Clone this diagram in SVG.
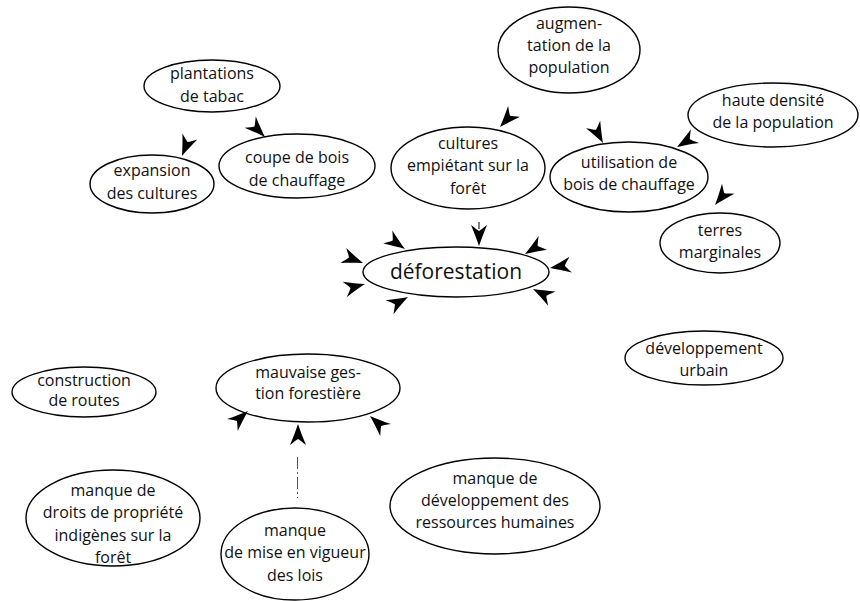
<svg xmlns="http://www.w3.org/2000/svg" width="860" height="601" viewBox="0 0 860 601">
<style>
.n ellipse{fill:#fff;stroke:#000;stroke-width:1.4}
.n text{font-family:"Open Sans","Noto Sans","Liberation Sans",sans-serif;font-size:16px;fill:#111;text-anchor:middle}
.big text{font-size:21px}
.ah{fill:#000}
</style>
<defs>
<path id="ah" d="M0,0 C-6,-2 -14,-5 -21,-8 C-18,-4 -16,-2 -15,0 C-16,2 -18,4 -21,8 C-14,5 -6,2 0,0 Z"/>
</defs>
<rect width="860" height="601" fill="#fff"/>
<g id="plantations" class="n"><ellipse cx="212" cy="86" rx="68" ry="26"/><text x="212" y="79">plantations</text><text x="212" y="102">de tabac</text></g>
<g id="expansion" class="n"><ellipse cx="152" cy="184" rx="62" ry="29"/><text x="152" y="176">expansion</text><text x="152" y="199">des cultures</text></g>
<g id="coupe" class="n"><ellipse cx="297" cy="166" rx="78" ry="32"/><text x="297" y="163">coupe de bois</text><text x="297" y="186">de chauffage</text></g>
<g id="cultures" class="n"><ellipse cx="468" cy="168" rx="77" ry="41"/><text x="468" y="149">cultures</text><text x="468" y="171">empiétant sur la</text><text x="468" y="194">forêt</text></g>
<g id="augmentation" class="n"><ellipse cx="569" cy="50" rx="71" ry="43"/><text x="569" y="29">augmen-</text><text x="569" y="51">tation de la</text><text x="569" y="73">population</text></g>
<g id="haute" class="n"><ellipse cx="773" cy="115" rx="85" ry="32"/><text x="773" y="106">haute densité</text><text x="773" y="128">de la population</text></g>
<g id="utilisation" class="n"><ellipse cx="629" cy="177" rx="79" ry="35"/><text x="629" y="168">utilisation de</text><text x="629" y="190">bois de chauffage</text></g>
<g id="terres" class="n"><ellipse cx="720" cy="243" rx="60" ry="30"/><text x="720" y="236">terres</text><text x="720" y="258">marginales</text></g>
<g id="deforestation" class="n big"><ellipse cx="456" cy="272" rx="93" ry="25"/><text x="456" y="279">déforestation</text></g>
<g id="construction" class="n"><ellipse cx="84" cy="392" rx="72" ry="25"/><text x="84" y="386">construction</text><text x="84" y="406">de routes</text></g>
<g id="mauvaise" class="n"><ellipse cx="308" cy="388" rx="92" ry="34"/><text x="308" y="378">mauvaise ges-</text><text x="308" y="399">tion forestière</text></g>
<g id="droits" class="n"><ellipse cx="113" cy="518" rx="87" ry="48"/><text x="113" y="496">manque de</text><text x="113" y="518">droits de propriété</text><text x="113" y="541">indigènes sur la</text><text x="113" y="563">forêt</text></g>
<g id="lois" class="n"><ellipse cx="295" cy="554" rx="74" ry="46"/><text x="295" y="536">manque</text><text x="295" y="558">de mise en vigueur</text><text x="295" y="581">des lois</text></g>
<g id="ressources" class="n"><ellipse cx="495" cy="506" rx="105" ry="48"/><text x="495" y="484">manque de</text><text x="495" y="506">développement des</text><text x="495" y="528">ressources humaines</text></g>
<g id="urbain" class="n"><ellipse cx="704" cy="358" rx="79" ry="27"/><text x="704" y="354">développement</text><text x="704" y="376">urbain</text></g>
<g id="connectors" class="ah">
<use href="#ah" transform="translate(182,156) rotate(112)"/>
<use href="#ah" transform="translate(265,137) rotate(45)"/>
<use href="#ah" transform="translate(500,127) rotate(132)"/>
<use href="#ah" transform="translate(603,143) rotate(62)"/>
<use href="#ah" transform="translate(677,147) rotate(149)"/>
<use href="#ah" transform="translate(715,205) rotate(129)"/>
<use href="#ah" transform="translate(479,246) rotate(90)"/>
<line x1="479" y1="222" x2="479" y2="229" stroke="#000" stroke-width="1"/>
<use href="#ah" transform="translate(405,249) rotate(35)"/>
<use href="#ah" transform="translate(363,263) rotate(21)"/>
<use href="#ah" transform="translate(365,284) rotate(-15)"/>
<use href="#ah" transform="translate(408,297) rotate(-29)"/>
<use href="#ah" transform="translate(525,254) rotate(148)"/>
<use href="#ah" transform="translate(550,268) rotate(171)"/>
<use href="#ah" transform="translate(533,289) rotate(-153)"/>
<use href="#ah" transform="translate(248,411) rotate(-42)"/>
<use href="#ah" transform="translate(298,424) rotate(-90)"/>
<use href="#ah" transform="translate(370,416) rotate(-138)"/>
<line x1="297.5" y1="457" x2="297.5" y2="498" stroke="#555" stroke-width="1" stroke-dasharray="12 3 2 3" fill="none"/>
</g>
</svg>
